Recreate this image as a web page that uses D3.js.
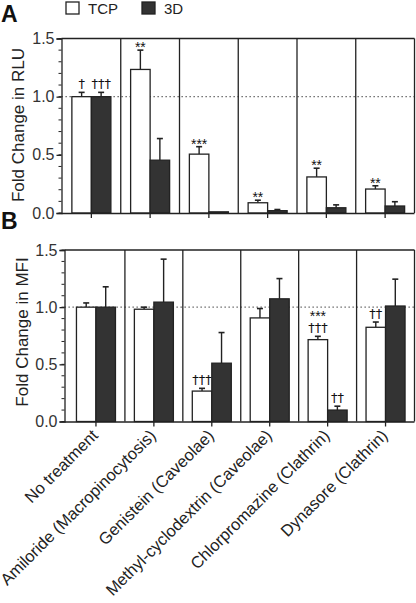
<!DOCTYPE html>
<html><head><meta charset="utf-8">
<script src="https://cdn.jsdelivr.net/npm/d3@7"></script>
<style>body{margin:0;background:#fff;}svg{display:block;font-family:"Liberation Sans",Arial,sans-serif;}</style>
</head><body>
<svg id="c" width="416" height="603"></svg>
<script>
const categories = ["No treatment","Amiloride (Macropinocytosis)","Genistein (Caveolae)","Methyl-cyclodextrin (Caveolae)","Chlorpromazine (Clathrin)","Dynasore (Clathrin)"];
const seriesNames = ["TCP","3D"];
const rluTCP = [1.0, 1.234, 0.506, 0.088, 0.31, 0.206];
const rluTCPErr = [0.037, 0.166, 0.064, 0.022, 0.075, 0.028];
const rlu3D = [1.0, 0.454, 0.01, 0.02, 0.045, 0.06];
const rlu3DErr = [0.037, 0.186, 0.0, 0.01, 0.025, 0.037];
const rluTCPMarks = [["†"],["**"],["***"],["**"],["**"],["**"]];
const rlu3DMarks = [["†††"],[],[],[],[],[]];
const mfiTCP = [1.0, 0.982, 0.266, 0.906, 0.716, 0.824];
const mfiTCPErr = [0.037, 0.018, 0.024, 0.082, 0.029, 0.046];
const mfi3D = [1.0, 1.044, 0.51, 1.073, 0.10, 1.01];
const mfi3DErr = [0.178, 0.376, 0.268, 0.177, 0.034, 0.235];
const mfiTCPMarks = [[],[],["†††"],[],["***","†††"],["††"]];
const mfi3DMarks = [[],[],[],[],["††"],[]];
const yTicks = [0.0, 0.5, 1.0, 1.5];
const yMinorTicks = d3.range(0, 1.5001, 0.1);

const svg = d3.select("#c");
const ink = "#222";
const dark = "#333";

function panel(o) {
  const g = svg.append("g");
  const x = d3.scaleBand().domain(categories).range([o.bandL, o.right]);
  const y = d3.scaleLinear().domain([0, 1.5]).range([o.bot, o.top]);
  const bw = 19.5;
  g.append("line").attr("x1", o.axisX).attr("x2", o.right).attr("y1", y(1)).attr("y2", y(1))
    .attr("stroke", "#555").attr("stroke-width", 1.2).attr("stroke-dasharray", "1.3,2.7");
  const bars = [
    {vals: o.tcp, errs: o.tcpErr, marks: o.tcpMarks, off: -bw, fill: "#fff"},
    {vals: o.d3, errs: o.d3Err, marks: o.d3Marks, off: 0, fill: dark}
  ];
  bars.forEach(s => {
    categories.forEach((c, i) => {
      const cx = x(c) + x.bandwidth() / 2;
      const bx = cx + s.off;
      const v = s.vals[i], e = s.errs[i];
      if (e > 0) {
        g.append("line").attr("x1", bx + bw/2).attr("x2", bx + bw/2).attr("y1", y(v)).attr("y2", y(v + e)).attr("stroke", ink).attr("stroke-width", 1.4);
        g.append("line").attr("x1", bx + bw/2 - 3).attr("x2", bx + bw/2 + 3).attr("y1", y(v + e)).attr("y2", y(v + e)).attr("stroke", ink).attr("stroke-width", 1.6);
      }
      g.append("rect").attr("x", bx).attr("width", bw).attr("y", y(v)).attr("height", y(0) - y(v))
        .attr("fill", s.fill).attr("stroke", ink).attr("stroke-width", 1.3);
      const top = y(v + e) - 4;
      s.marks[i].slice().reverse().forEach((m, k) => {
        const star = m.indexOf("*") >= 0;
        g.append("text").attr("x", bx + bw/2).attr("y", top - k * 17 + (star ? 6 : 0))
          .attr("text-anchor", "middle").attr("font-size", star ? 14 : 13)
          .attr("font-family", star ? "Liberation Sans, Arial, sans-serif" : "DejaVu Sans, sans-serif")
          .attr("fill", "#111").attr("opacity", 0.999).text(m);
      });
    });
  });
  categories.forEach((c, i) => {
    if (i > 0) g.append("line").attr("x1", x(c)).attr("x2", x(c)).attr("y1", o.top).attr("y2", o.bot).attr("stroke", ink).attr("stroke-width", 1.3);
  });
  g.append("line").attr("x1", o.axisX).attr("x2", o.right).attr("y1", o.top).attr("y2", o.top).attr("stroke", ink).attr("stroke-width", 1.3);
  g.append("line").attr("x1", o.right).attr("x2", o.right).attr("y1", o.top).attr("y2", o.bot).attr("stroke", ink).attr("stroke-width", 1.3);
  const ya = g.append("g").attr("transform", `translate(${o.axisX},0)`)
    .call(d3.axisLeft(y).tickValues(yTicks).tickFormat(d3.format(".1f")).tickSize(5).tickPadding(2));
  ya.selectAll("text").attr("font-size", 16).attr("fill", "#333").attr("font-family", "Liberation Sans, Arial, sans-serif");
  ya.selectAll("line,path").attr("stroke", ink).attr("stroke-width", 1.3);
  g.append("g").selectAll("line").data(yMinorTicks).join("line")
    .attr("x1", o.axisX - 3).attr("x2", o.axisX).attr("y1", d => y(d)).attr("y2", d => y(d)).attr("stroke", ink).attr("stroke-width", 1);
  const xa = g.append("g").attr("transform", `translate(0,${o.bot})`)
    .call(d3.axisBottom(x).tickSize(5).tickFormat(o.labels ? (d => d) : () => ""));
  xa.select("path").attr("d", `M${o.axisX},0.5H${o.right}`).attr("stroke", ink).attr("stroke-width", 1.3);
  xa.selectAll("line").attr("stroke", ink).attr("stroke-width", 1.3);
  if (o.labels) {
    xa.selectAll("text").attr("font-size", 16.5).attr("fill", ink).attr("font-family", "Liberation Sans, Arial, sans-serif")
      .attr("text-anchor", "end").attr("transform", "translate(-1,11) rotate(-45)").attr("x", 0).attr("y", 0).attr("dy", "0.35em");
  }
  g.append("text").attr("transform", `translate(${o.labX},${o.labY}) rotate(-90)`)
    .attr("text-anchor", "middle").attr("font-size", 17).attr("fill", ink).text(o.ylab);
  g.append("text").attr("x", 1).attr("y", o.letterY).attr("font-size", 23).attr("font-weight", "bold").attr("fill", "#111").text(o.letter);
}

panel({top: 38.5, bot: 213, axisX: 61.5, bandL: 62, right: 414.5, tcp: rluTCP, tcpErr: rluTCPErr, d3: rlu3D, d3Err: rlu3DErr,
  tcpMarks: rluTCPMarks, d3Marks: rlu3DMarks, ylab: "Fold Change in RLU", labX: 24, labY: 125, letter: "A", letterY: 22, labels: false});
panel({top: 250, bot: 421.5, axisX: 64.5, bandL: 67, right: 414.5, tcp: mfiTCP, tcpErr: mfiTCPErr, d3: mfi3D, d3Err: mfi3DErr,
  tcpMarks: mfiTCPMarks, d3Marks: mfi3DMarks, ylab: "Fold Change in MFI", labX: 28, labY: 332, letter: "B", letterY: 229, labels: true});

const leg = svg.append("g");
seriesNames.forEach((n, i) => {
  const lx = 66 + i * 76;
  leg.append("rect").attr("x", lx).attr("y", 2).attr("width", 13).attr("height", 12)
    .attr("fill", i === 0 ? "#fff" : dark).attr("stroke", ink).attr("stroke-width", 1.3);
  leg.append("text").attr("x", lx + 22).attr("y", 14).attr("font-size", 15).attr("fill", ink).text(n);
});
</script>
</body></html>
